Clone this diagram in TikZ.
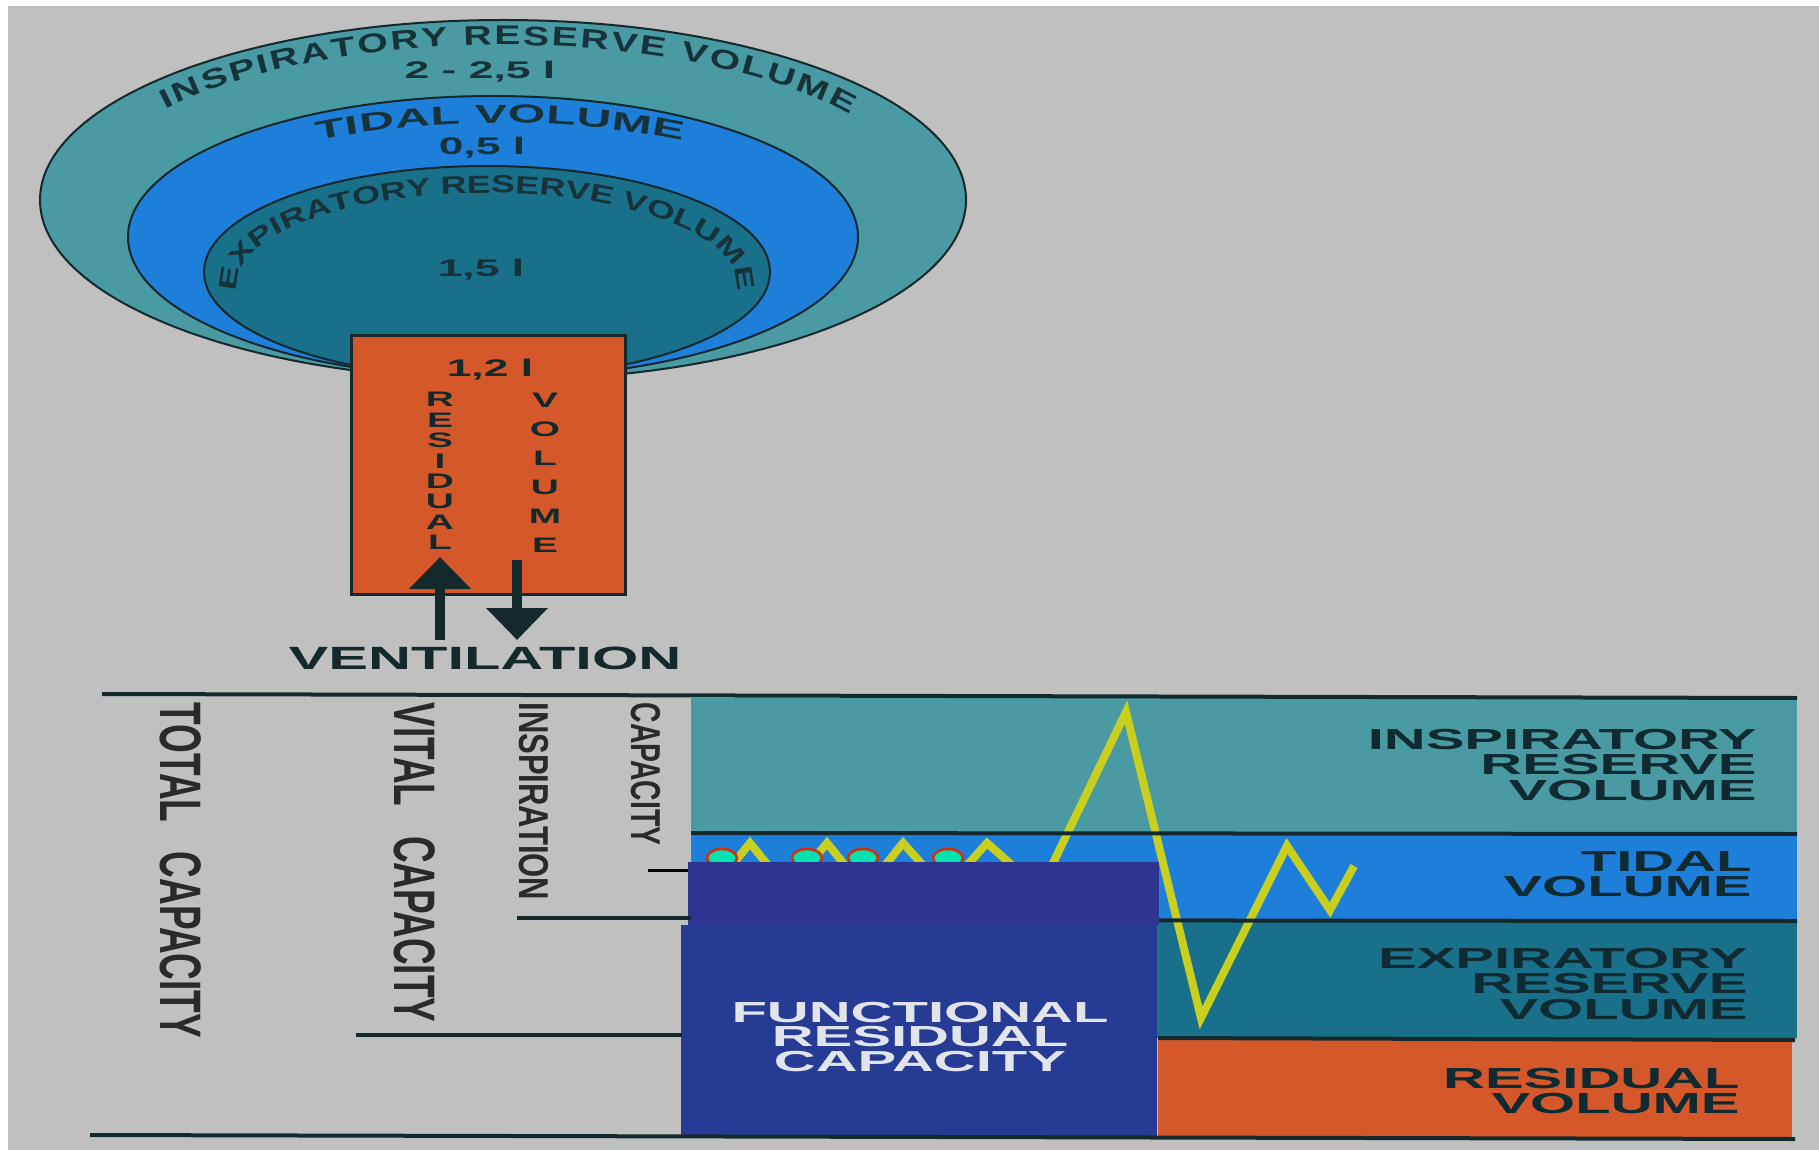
\documentclass[tikz,border=0pt]{standalone}
\usepackage{fontspec}
\setmainfont{Liberation Sans}
\newfontfamily\widefont[FakeStretch=1.85]{Liberation Sans}
\newfontfamily\arcfont[FakeStretch=1.45]{Liberation Sans}
\newfontfamily\labelfont[FakeStretch=2.0]{Liberation Sans}
\usepackage{tikz}
\usetikzlibrary{arrows.meta,decorations.text}

\definecolor{bggrey}{HTML}{C0C0C0}
\definecolor{irvteal}{HTML}{4A9AA4}
\definecolor{tvblue}{HTML}{1E7FDA}
\definecolor{ervteal}{HTML}{19708B}
\definecolor{rvorange}{HTML}{D4582A}
\definecolor{frcblue}{HTML}{263C94}
\definecolor{patchblue}{HTML}{2E3590}
\definecolor{traceyellow}{HTML}{C9CF1E}
\definecolor{darkink}{HTML}{14292B}
\definecolor{labelink}{HTML}{0F2B31}
\definecolor{shellink}{HTML}{173238}
\definecolor{colink}{HTML}{2A2A2A}
\definecolor{frcink}{HTML}{E2E4EC}
\definecolor{mintfill}{HTML}{00E3B0}
\definecolor{ovalred}{HTML}{D2300C}

\newcommand{\shellfont}{\arcfont\bfseries\fontsize{13.5}{15}\selectfont}
\newcommand{\tidefont}{\widefont\bfseries\fontsize{13}{15}\selectfont}
\newcommand{\erfont}{\arcfont\bfseries\fontsize{12.4}{14}\selectfont}

\begin{document}
\begin{tikzpicture}[x=0.5pt,y=-0.5pt,
  rule/.style={draw=darkink,line width=2pt},
  shell/.style={draw=darkink,line width=1pt},
  shelltext/.style={decorate,decoration={text along path,text align=fit to path,
    text color=shellink,text={#1}}},
  innertext/.style={decorate,decoration={text along path,text align=center,
    text color=shellink,text={#1}}},
  litre/.style={font=\widefont\bfseries\fontsize{12}{14}\selectfont,text=shellink,inner sep=0pt},
  stack/.style={font=\widefont\bfseries\fontsize{10.5}{#1}\selectfont,text=darkink,
    align=center,inner sep=0pt,anchor=north},
  ventarrow/.style={draw=darkink,line width=5pt,-{Triangle[width=30pt,length=16pt]}},
  bandlabel/.style={font=\labelfont\bfseries\fontsize{14.5}{12.6}\selectfont,text=labelink,
    align=right,anchor=east,inner sep=0pt},
  bigcol/.style={font=\bfseries\fontsize{15.4}{18}\selectfont,text=colink,inner sep=0pt,
    anchor=west,xscale=1.9,yscale=#1,rotate=-90},
  smallcol/.style={font=\bfseries\fontsize{11}{13}\selectfont,text=colink,inner sep=0pt,
    anchor=west,xscale=1.9,yscale=#1,rotate=-90},
  trace/.style={draw=traceyellow,line width=4pt,line join=miter},
  breathmark/.style={draw=ovalred,fill=mintfill,line width=1.3pt}]
  \useasboundingbox (0,0) rectangle (1819,1150);
  \fill[white] (0,0) rectangle (1819,1150);
  \fill[bggrey] (8,6) rectangle (1819,1150);

  % lung shells
  \draw[shell,fill=irvteal] (503,200) ellipse [x radius=463,y radius=180];
  \draw[shell,fill=tvblue] (493,237) ellipse [x radius=365,y radius=141];
  \draw[shell,fill=ervteal] (487,272) ellipse [x radius=283,y radius=106];
  \path[shelltext={|\shellfont|INSPIRATORY RESERVE VOLUME}]
    (503,200) ++(215.5:415 and 155)
    arc[start angle=215.5,end angle=326.8,x radius=415,y radius=155];
  \path[shelltext={|\tidefont|TIDAL VOLUME}]
    (500,237) ++(237.5:340 and 114)
    arc[start angle=237.5,end angle=302.5,x radius=340,y radius=114];
  \path[innertext={|\erfont|EXPIRATORY RESERVE VOLUME}]
    (487,285) ++(170:250 and 92)
    arc[start angle=170,end angle=370,x radius=250,y radius=92];
  \node (irvl) [litre] at (480,72) {2 - 2,5 l};
  \node (tvl) [litre] at (482,148) {0,5 l};
  \node (ervl) [litre] at (481,270) {1,5 l};

  % residual box
  \draw[draw=darkink,line width=1.5pt,fill=rvorange] (351,335) rectangle (625,594);
  \node (rvl) [litre,text=darkink] at (490,370) {1,2 l};
  \node (resid) [stack=10.2] at (440,392) {R\\E\\S\\I\\D\\U\\A\\L};
  \node (volum) [stack=14.5] at (545,393) {V\\O\\L\\U\\M\\E};

  \coordinate (inbase) at (440,640);
  \coordinate (intip) at (440,557);
  \coordinate (outbase) at (517,560);
  \coordinate (outtip) at (517,640);
  \draw[ventarrow] (inbase) -- (intip);
  \draw[ventarrow] (outbase) -- (outtip);
  \node (vent) [font=\widefont\bfseries\fontsize{16.1}{18}\selectfont,text=darkink,
    inner sep=0pt] at (485,658) {VENTILATION};

  % spirogram bands
  \fill[irvteal] (691,698) rectangle (1797,833);
  \fill[tvblue] (691,833) rectangle (1797,920);
  \fill[ervteal] (691,920) rectangle (1797,1038);
  \fill[rvorange] (1158,1038) rectangle (1792,1137);
  \draw[trace] (712,890) -- (750,843) -- (788,890) -- (827,843) -- (865,890)
    -- (903,843) -- (945,890) -- (987,843) -- (1040,890) -- (1126,712)
    -- (1201,1018) -- (1287,846) -- (1330,910) -- (1354,866);
  \draw[rule] (691,833) -- (1797,834);
  \draw[rule] (691,920) -- (1797,921);
  \draw[rule] (1158,1038) -- (1795,1040);

  % FRC block
  \fill[frcblue] (681,925) rectangle (1157,1136);
  \draw[breathmark] (722,858) ellipse [x radius=15,y radius=9];
  \draw[breathmark] (807,858) ellipse [x radius=15,y radius=9];
  \draw[breathmark] (863,858) ellipse [x radius=15,y radius=9];
  \draw[breathmark] (948,858) ellipse [x radius=15,y radius=9];
  \fill[patchblue] (688,862) rectangle (1159,925);
  \draw[black,line width=1.5pt] (648,870) -- (688,870);
  \node (frc) [font=\labelfont\bfseries\fontsize{14.5}{12.4}\selectfont,text=frcink,
    align=center,inner sep=0pt] at (920,1037) {FUNCTIONAL\\RESIDUAL\\CAPACITY};

  % outer rules
  \draw[rule] (102,694) -- (1797,698);
  \draw[rule] (90,1135) -- (1795,1139);
  \draw[rule] (517,918) -- (691,918);
  \draw[rule] (356,1035) -- (682,1035);

  % labels
  \node (irvlab) [bandlabel] at (1757,765) {INSPIRATORY\\RESERVE\\VOLUME};
  \node (tvlab) [bandlabel] at (1752,874) {TIDAL\\VOLUME};
  \node (ervlab) [bandlabel] at (1748,984) {EXPIRATORY\\RESERVE\\VOLUME};
  \node (rvlab) [bandlabel] at (1740,1091) {RESIDUAL\\VOLUME};
  \node (tlc) [bigcol=1.2] at (181,702) {TOTAL\hspace{0.8em}CAPACITY};
  \node (vc) [bigcol=1.2] at (415,702) {VITAL\hspace{0.8em}CAPACITY};
  \node (insp) [smallcol=1.41] at (534,702) {INSPIRATION};
  \node (ic) [smallcol=1.29] at (646,702) {CAPACITY};
\end{tikzpicture}
\end{document}
